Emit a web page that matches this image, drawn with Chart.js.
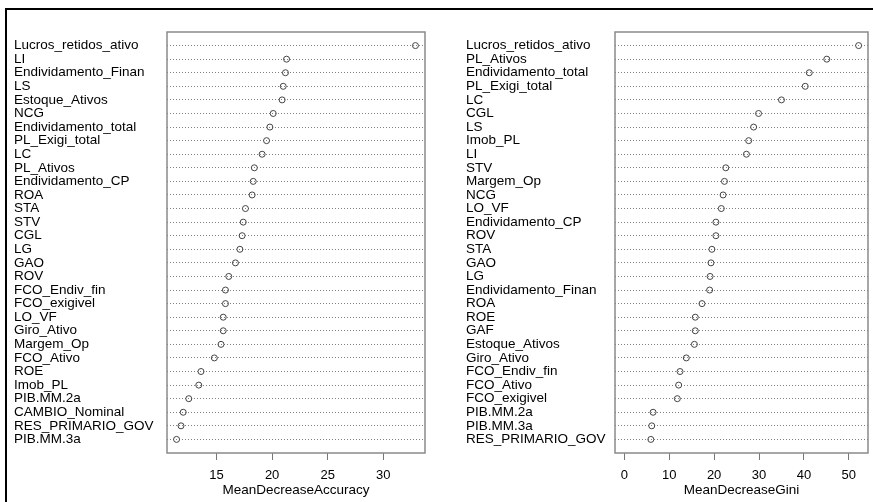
<!DOCTYPE html>
<html>
<head>
<meta charset="utf-8">
<script src="https://cdn.jsdelivr.net/npm/chart.js@4"></script>
<style>
  html, body { margin: 0; padding: 0; background: #fff; }
  body { width: 873px; height: 502px; position: relative; overflow: hidden; }
  #frame { position: absolute; left: 5px; top: 8px; right: -10px; bottom: -10px;
           border-top: 2px solid #000; border-left: 2px solid #000; }
  canvas { position: absolute; top: 0; }
  #accCanvas { left: 14px; }
  #giniCanvas { left: 466px; }
</style>
</head>
<body>
<div id="frame"></div>
<canvas id="accCanvas" width="420" height="502"></canvas>
<canvas id="giniCanvas" width="407" height="502"></canvas>
<script>
// MeanDecreaseAccuracy panel
const accLabels = ["Lucros_retidos_ativo", "LI", "Endividamento_Finan", "LS", "Estoque_Ativos",
  "NCG", "Endividamento_total", "PL_Exigi_total", "LC", "PL_Ativos", "Endividamento_CP",
  "ROA", "STA", "STV", "CGL", "LG", "GAO", "ROV", "FCO_Endiv_fin", "FCO_exigivel",
  "LO_VF", "Giro_Ativo", "Margem_Op", "FCO_Ativo", "ROE", "Imob_PL", "PIB.MM.2a",
  "CAMBIO_Nominal", "RES_PRIMARIO_GOV", "PIB.MM.3a"];
const accValues = [32.9, 21.3, 21.2, 21.0, 20.9, 20.1, 19.8, 19.5, 19.1, 18.4, 18.3,
  18.2, 17.6, 17.4, 17.3, 17.1, 16.7, 16.1, 15.8, 15.8, 15.6, 15.6, 15.4, 14.8,
  13.6, 13.4, 12.5, 12.0, 11.8, 11.4];
const accTicks = [15, 20, 25, 30];

// MeanDecreaseGini panel
const giniLabels = ["Lucros_retidos_ativo", "PL_Ativos", "Endividamento_total", "PL_Exigi_total",
  "LC", "CGL", "LS", "Imob_PL", "LI", "STV", "Margem_Op", "NCG", "LO_VF",
  "Endividamento_CP", "ROV", "STA", "GAO", "LG", "Endividamento_Finan", "ROA", "ROE",
  "GAF", "Estoque_Ativos", "Giro_Ativo", "FCO_Endiv_fin", "FCO_Ativo", "FCO_exigivel",
  "PIB.MM.2a", "PIB.MM.3a", "RES_PRIMARIO_GOV"];
const giniValues = [52.2, 45.1, 41.2, 40.3, 35.0, 29.9, 28.8, 27.7, 27.2, 22.6, 22.3,
  22.0, 21.6, 20.4, 20.4, 19.5, 19.3, 19.1, 19.0, 17.3, 15.8, 15.8, 15.6, 13.8,
  12.4, 12.1, 11.8, 6.4, 6.1, 5.9];
const giniTicks = [0, 10, 20, 30, 40, 50];

const FONT = "'Liberation Sans', Arial, sans-serif";

// grey box round the plot area, like R's box()
const boxPlugin = {
  id: "box",
  afterDraw(chart) {
    const a = chart.chartArea;
    const ctx = chart.ctx;
    ctx.save();
    ctx.strokeStyle = "#8a8a8a";
    ctx.lineWidth = 1.5;
    ctx.strokeRect(a.left, a.top, a.right - a.left, a.bottom - a.top);
    ctx.restore();
  }
};

function makeDotchart(canvasId, labels, values, ticks, title, xmin, xmax, yAxisWidth, padRight) {
  const n = labels.length;
  return new Chart(document.getElementById(canvasId), {
    type: "scatter",
    data: {
      datasets: [{
        data: values.map((v, i) => ({ x: v, y: i + 1 })),
        pointStyle: "circle",
        pointRadius: 3,
        pointBorderWidth: 1,
        pointBorderColor: "#444",
        pointBackgroundColor: "rgba(0,0,0,0)"
      }]
    },
    options: {
      responsive: false,
      animation: false,
      events: [],
      layout: { padding: { top: 32, right: padRight, left: 0, bottom: 0 } },
      plugins: { legend: { display: false }, tooltip: { enabled: false } },
      scales: {
        x: {
          type: "linear",
          min: xmin,
          max: xmax,
          afterBuildTicks: s => { s.ticks = ticks.map(v => ({ value: v })); },
          afterFit: s => { s.height = 49; },
          border: { display: false },
          grid: { drawOnChartArea: false, drawTicks: true, tickLength: 7, color: "#777", lineWidth: 1 },
          ticks: { color: "#000", padding: 8, font: { family: FONT, size: 13 } },
          title: { display: true, text: title, color: "#000", padding: { top: 0, bottom: 4 },
                   font: { family: FONT, size: 13.5 } }
        },
        y: {
          type: "linear",
          min: 0,
          max: n + 1,
          reverse: true,
          afterBuildTicks: s => {
            const t = [];
            for (let i = 0; i <= n + 1; i++) t.push({ value: i });
            s.ticks = t;
          },
          afterFit: s => { s.width = yAxisWidth; },
          border: { display: false, dash: [1, 2] },
          grid: {
            drawTicks: false,
            color: c => (c.tick && c.tick.value >= 1 && c.tick.value <= n) ? "#808080" : "rgba(0,0,0,0)",
            lineWidth: 1
          },
          ticks: {
            autoSkip: false,
            crossAlign: "far",
            color: "#000",
            font: { family: FONT, size: 13.5, lineHeight: 1 },
            callback: v => (v >= 1 && v <= n) ? labels[v - 1] : ""
          }
        }
      }
    },
    plugins: [boxPlugin]
  });
}

// x limits the way R's dotchart pads them (4% each side)
const accMin = Math.min(...accValues), accMax = Math.max(...accValues);
const accR = accMax - accMin;
const chartAcc = makeDotchart("accCanvas", accLabels, accValues, accTicks, "MeanDecreaseAccuracy",
  accMin - 0.04 * accR, accMax + 0.04 * accR, 153, 9);

const giniMax = Math.max(...giniValues);
const chartGini = makeDotchart("giniCanvas", giniLabels, giniValues, giniTicks, "MeanDecreaseGini",
  -0.04 * giniMax, giniMax * 1.04, 149, 1);
</script>
</body>
</html>
